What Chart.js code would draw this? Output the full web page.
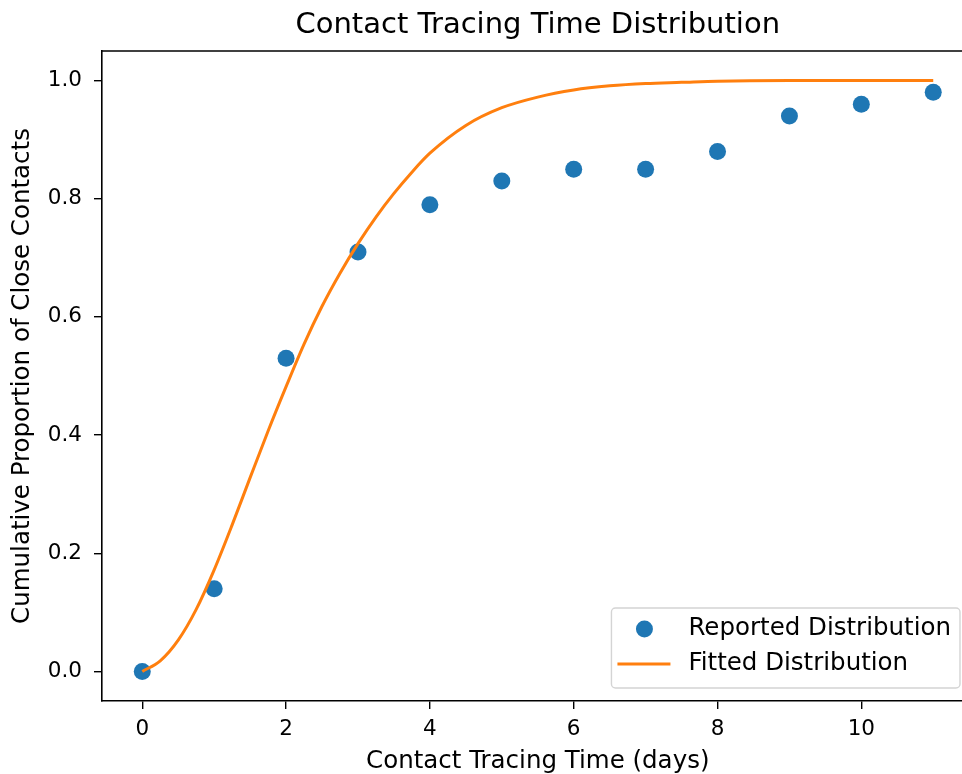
<!DOCTYPE html>
<html>
<head>
<meta charset="utf-8">
<script src="https://cdn.jsdelivr.net/npm/chart.js@4/dist/chart.umd.min.js"></script>
<style>
  html, body { margin: 0; padding: 0; background: #fff; }
  #wrap { width: 962px; height: 774px; }
</style>
</head>
<body>
<div id="wrap"><canvas id="cdfchart"></canvas></div>
<script>
// reported cumulative proportions, one per day
const days = [0, 1, 2, 3, 4, 5, 6, 7, 8, 9, 10, 11];
const reported = [0.0, 0.14, 0.53, 0.71, 0.79, 0.83, 0.85, 0.85, 0.88, 0.94, 0.96, 0.98];

// fitted curve
const fittedX = [0, 0.25, 0.5, 0.75, 1, 1.25, 1.5, 1.75, 2, 2.25, 2.5, 2.75, 3, 3.25, 3.5, 3.75, 4, 4.5, 5, 5.5, 6, 6.5, 7, 7.5, 8, 9, 10, 11];
const fittedY = [0, 0.018, 0.053, 0.105, 0.172, 0.248, 0.328, 0.407, 0.482, 0.554, 0.618, 0.674, 0.724, 0.769, 0.809, 0.845, 0.877, 0.924, 0.954, 0.972, 0.984, 0.991, 0.995, 0.997, 0.999, 1.0, 1.0, 1.0];

const xTicks = [0, 2, 4, 6, 8, 10];
const yTicks = [0.0, 0.2, 0.4, 0.6, 0.8, 1.0];

const chartTitle = "Contact Tracing Time Distribution";
const xTitle = "Contact Tracing Time (days)";
const yTitle = "Cumulative Proportion of Close Contacts";

const FONT = "'DejaVu Sans', sans-serif";

// title, x label, top frame and the inside legend, matplotlib style
const extrasPlugin = {
  id: "mplExtras",
  afterDraw: (chart) => {
    const ctx = chart.ctx;
    const area = chart.chartArea;
    const xs = chart.scales.x;
    const midX = xs.getPixelForValue(5.5);

    ctx.save();
    // top frame line
    ctx.strokeStyle = "#000";
    ctx.lineWidth = 1.6;
    ctx.beginPath();
    ctx.moveTo(area.left - 0.8, area.top);
    ctx.lineTo(area.right, area.top);
    ctx.stroke();

    ctx.fillStyle = "#000";
    ctx.textAlign = "center";
    ctx.textBaseline = "middle";
    ctx.font = "29px " + FONT;
    ctx.fillText(chartTitle, midX, 25);
    ctx.font = "24.5px " + FONT;
    ctx.fillText(xTitle, midX, 762);

    // legend box, lower right
    const sets = chart.data.datasets;
    let textW = 0;
    sets.forEach((d) => { textW = Math.max(textW, ctx.measureText(d.label).width); });
    const boxW = 77 + textW + 9;
    const boxH = 80;
    const boxR = area.right - 2;
    const boxB = area.bottom - 13;
    const boxL = boxR - boxW;
    const boxT = boxB - boxH;
    ctx.fillStyle = "rgba(255,255,255,0.85)";
    ctx.strokeStyle = "#d4d4d4";
    ctx.lineWidth = 1.4;
    ctx.beginPath();
    ctx.roundRect(boxL, boxT, boxW, boxH, 4);
    ctx.fill();
    ctx.stroke();

    const rowY = [boxT + 21, boxT + 56];
    sets.forEach((d, i) => {
      const y = rowY[i];
      if (d.type === "scatter") {
        ctx.fillStyle = d.backgroundColor;
        ctx.beginPath();
        ctx.arc(boxL + 33, y, 8.5, 0, Math.PI * 2);
        ctx.fill();
      } else {
        ctx.strokeStyle = d.borderColor;
        ctx.lineWidth = 3;
        ctx.beginPath();
        ctx.moveTo(boxL + 6, y);
        ctx.lineTo(boxL + 59, y);
        ctx.stroke();
      }
      ctx.fillStyle = "#000";
      ctx.textAlign = "left";
      ctx.fillText(d.label, boxL + 77, y);
    });
    ctx.restore();
  },
};

const reportedPoints = days.map((d, i) => ({ x: d, y: reported[i] }));
const fittedPoints = fittedX.map((d, i) => ({ x: d, y: fittedY[i] }));

const configCdf = {
  type: "scatter",
  plugins: [extrasPlugin],
  data: {
    datasets: [
      {
        type: "scatter",
        label: "Reported Distribution",
        data: reportedPoints,
        backgroundColor: "#1f77b4",
        borderWidth: 0,
        pointRadius: 8.5,
        order: 1,
      },
      {
        type: "line",
        label: "Fitted Distribution",
        data: fittedPoints,
        borderColor: "#ff7f0e",
        borderWidth: 3,
        pointRadius: 0,
        fill: false,
        cubicInterpolationMode: "monotone",
        order: 0,
      },
    ],
  },
  options: {
    responsive: true,
    maintainAspectRatio: false,
    animation: false,
    layout: { autoPadding: false, padding: { top: 51, right: 0, left: 0, bottom: 0 } },
    plugins: {
      legend: { display: false },
      title: { display: false },
      tooltip: { enabled: false },
    },
    scales: {
      x: {
        type: "linear",
        min: -0.56,
        max: 11.40,
        afterFit: (scale) => { scale.height = 73; },
        afterBuildTicks: (scale) => { scale.ticks = xTicks.map((v) => ({ value: v })); },
        grid: { drawOnChartArea: false, color: "#000", lineWidth: 1.4, tickLength: 8 },
        border: { color: "#000", width: 1.6 },
        ticks: {
          color: "#000",
          padding: 8,
          maxRotation: 0,
          font: { family: FONT, size: 21.5 },
        },
      },
      y: {
        type: "linear",
        min: -0.05,
        max: 1.05,
        afterFit: (scale) => { scale.width = 102; },
        afterBuildTicks: (scale) => { scale.ticks = yTicks.map((v) => ({ value: v })); },
        grid: { drawOnChartArea: false, color: "#000", lineWidth: 1.4, tickLength: 8 },
        border: { color: "#000", width: 1.6 },
        ticks: {
          color: "#000",
          padding: 12,
          font: { family: FONT, size: 21.5 },
          callback: (v) => Number(v).toFixed(1),
        },
        title: {
          display: true,
          text: yTitle,
          color: "#000",
          padding: { top: 8, bottom: 0 },
          font: { family: FONT, size: 24.5 },
        },
      },
    },
  },
};

var chart = new Chart(document.getElementById("cdfchart").getContext("2d"), configCdf);
</script>
</body>
</html>
